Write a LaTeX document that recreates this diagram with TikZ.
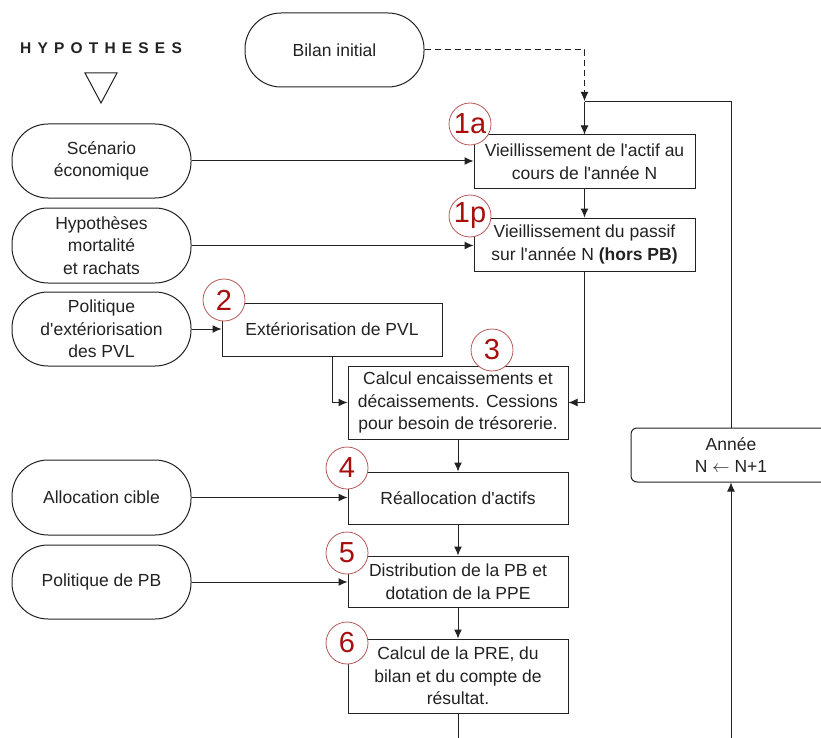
\documentclass[tikz,border=0pt]{standalone}
\usepackage{fontspec}
\setmainfont{Liberation Sans}
\usetikzlibrary{arrows.meta,calc}
\definecolor{numred}{HTML}{A80E0E}
\definecolor{ringred}{HTML}{B85858}
\definecolor{ink}{HTML}{222222}
\begin{document}
\begin{tikzpicture}[x=1pt,y=-1pt,
  every node/.style={font=\fontsize{17.5}{22.5}\selectfont,text=ink},
  term/.style={draw=ink,line width=1pt,rounded corners=36pt,minimum width=179pt,minimum height=74pt,align=center,inner sep=2pt},
  proc/.style={draw=ink,line width=1pt,minimum width=220pt,align=center,inner sep=3pt},
  num/.style={circle,draw=ringred,line width=0.8pt,fill=white,text=numred,minimum size=42pt,inner sep=0pt,font=\fontsize{29}{29}\selectfont},
  arr/.style={draw=ink,line width=1pt,-{Latex[length=9pt,width=8pt]}},
  ln/.style={draw=ink,line width=1pt}]
\clip (0,0) rectangle (821,738);
\fill[white] (0,0) rectangle (821,738);

% header
\node (hyp) at (101,48) {\fontsize{15.5}{15.5}\selectfont\bfseries\addfontfeature{LetterSpace=40}HYPOTHESES};
\draw[ln] (85,73) -- (117,73) -- (101,103) -- cycle;

% terminals
\node[term] (bilan) at (334.5,50) {Bilan initial};
\node[term] (scen) at (101.5,161) {Scénario\\économique};
\node[term,minimum height=75pt] (hypo) at (101.5,245.5) {Hypothèses\\mortalité\\et rachats};
\node[term] (pol) at (101.5,329) {Politique\\d\textquotesingle extériorisation\\des PVL};
\node[term,minimum height=75pt] (alloc) at (101.5,497.5) {Allocation cible};
\node[term] (polpb) at (101.5,582) {Politique de PB};

% process boxes
\node[proc,minimum width=221pt,minimum height=53pt] (a1) at (584.5,161.5) {Vieillissement de l\textquotesingle actif au\\cours de l\textquotesingle année N};
\node[proc,minimum width=221pt,minimum height=53pt] (p1) at (584.5,244.5) {Vieillissement du passif\\sur l\textquotesingle année N \textbf{(hors PB)}};
\node[proc,minimum height=53pt] (b2) at (332,329.5) {Extériorisation de PVL};
\node[proc,minimum height=73pt] (b3) at (458,402.5) {Calcul encaissements et\\décaissements. Cessions\\pour besoin de trésorerie.};
\node[proc,minimum height=52pt] (b4) at (458,498) {Réallocation d\textquotesingle actifs};
\node[proc,minimum height=51pt] (b5) at (458,581.5) {Distribution de la PB et\\dotation de la PPE};
\node[proc,minimum height=74pt] (b6) at (458,676) {Calcul de la PRE, du\\bilan et du compte de\\résultat.};
\node[draw=ink,line width=1pt,rounded corners=6pt,minimum width=200pt,minimum height=54pt,align=center,inner sep=2pt] (annee) at (731,455) {Année\\N $\leftarrow$ N+1};

% connectors
\coordinate (j) at (584.5,102);
\coordinate (jd) at (584.5,101);
\draw[arr,dash pattern=on 6pt off 4pt] (bilan.east) -| (jd);
\draw[ln] (annee.north) |- (j);
\draw[arr] (j) -- (a1.north);
\draw[arr] (scen.east) -- (scen.east -| a1.west);
\draw[arr] (a1.south) -- (p1.north);
\draw[arr] (hypo.east) -- (hypo.east -| p1.west);
\draw[arr] (pol.east) -- (pol.east -| b2.west);
\draw[arr] (b2.south) |- (b3.west);
\draw[arr] (p1.south) |- (b3.east);
\draw[arr] (b3.south) -- (b4.north);
\draw[arr] (alloc.east) -- (alloc.east -| b4.west);
\draw[arr] (b4.south) -- (b5.north);
\draw[arr] (polpb.east) -- (polpb.east -| b5.west);
\draw[arr] (b5.south) -- (b6.north);
\draw[arr] (b6.south) -- ++(0,50) -| (annee.south);

% step numbers
\node[num] (n1a) at (470,124) {1a};
\node[num] (n1p) at (470,216) {1p};
\node[num] (n2) at (224,300) {2};
\node[num] (n3) at (492,350) {3};
\node[num] (n4) at (347,468) {4};
\node[num] (n5) at (347,553) {5};
\node[num] (n6) at (347,643) {6};
\end{tikzpicture}
\end{document}
